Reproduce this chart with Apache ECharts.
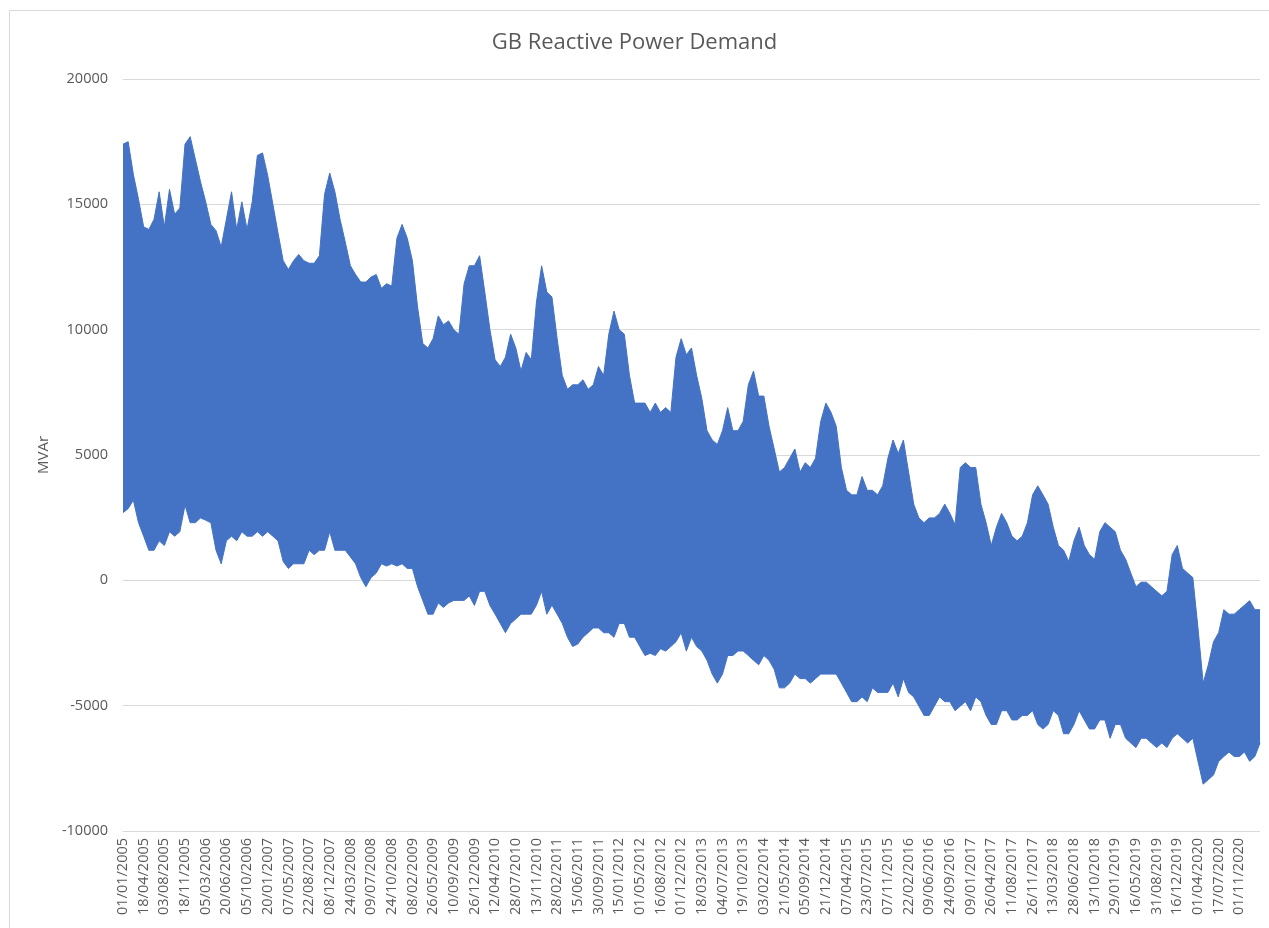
<!DOCTYPE html>
<html>
<head>
<meta charset="utf-8">
<title>GB Reactive Power Demand</title>
<script src="https://cdn.jsdelivr.net/npm/echarts@6/dist/echarts.min.js"></script>
<style>
  html, body { margin: 0; padding: 0; background: #fff; }
  #chart { width: 1269px; height: 928px; }
</style>
</head>
<body>
<div id="chart"></div>
<script>
// x axis: one label every 107 days, data sampled every quarter of a label step
const dateLabels = [
  '01/01/2005', '18/04/2005', '03/08/2005', '18/11/2005', '05/03/2006', '20/06/2006',
  '05/10/2006', '20/01/2007', '07/05/2007', '22/08/2007', '08/12/2007', '24/03/2008',
  '09/07/2008', '24/10/2008', '08/02/2009', '26/05/2009', '10/09/2009', '26/12/2009',
  '12/04/2010', '28/07/2010', '13/11/2010', '28/02/2011', '15/06/2011', '30/09/2011',
  '15/01/2012', '01/05/2012', '16/08/2012', '01/12/2012', '18/03/2013', '04/07/2013',
  '19/10/2013', '03/02/2014', '21/05/2014', '05/09/2014', '21/12/2014', '07/04/2015',
  '23/07/2015', '07/11/2015', '22/02/2016', '09/06/2016', '24/09/2016', '09/01/2017',
  '26/04/2017', '11/08/2017', '26/11/2017', '13/03/2018', '28/06/2018', '13/10/2018',
  '29/01/2019', '16/05/2019', '31/08/2019', '16/12/2019', '01/04/2020', '17/07/2020',
  '01/11/2020'
];
const PER_LABEL = 4;

// upper edge of the half-hourly demand (MVAr)
const highs = [
  17400, 17500, 16200, 15200, 14100, 14000, 14400, 15500, 14100, 15600, 14600, 14850,
  17400, 17700, 16800, 15900, 15100, 14200, 13950, 13300, 14400, 15500, 14000, 15100,
  14000, 15100, 16950, 17050, 16150, 15000, 13850, 12750, 12400, 12750, 13000, 12750,
  12650, 12650, 12950, 15400, 16250, 15500, 14400, 13500, 12550, 12200, 11900, 11900, 12100,
  12200, 11650, 11830, 11740, 13650, 14200, 13650, 12750, 10900, 9450, 9270, 9640,
  10550, 10200, 10350, 10000, 9820, 11830, 12550, 12550, 12950, 11500, 10000, 8800, 8530,
  8900, 9820, 9270, 8350, 9090, 8800, 11100, 12550, 11500, 11300, 9640, 8170,
  7620, 7800, 7800, 8000, 7620, 7800, 8530, 8170, 9820, 10740, 10000, 9820, 8170,
  7070, 7070, 7070, 6700, 7070, 6700, 6890, 6700, 8900, 9640, 9000, 9270,
  8170, 7250, 5970, 5600, 5420, 5970, 6890, 5970, 5970, 6340, 7800, 8350,
  7350, 7350, 6150, 5240, 4320, 4500, 4870, 5240, 4320, 4690, 4500, 4870,
  6340, 7070, 6700, 6150, 4500, 3590, 3410, 3410, 4140, 3590, 3590, 3410, 3770,
  4870, 5600, 5060, 5600, 4320, 3040, 2490, 2300, 2490, 2490, 2670, 3040,
  2670, 2220, 4500, 4690, 4500, 4500, 3040, 2300, 1390, 2120, 2670, 2300, 1760,
  1575, 1760, 2300, 3410, 3770, 3410, 3040, 2120, 1390, 1200, 750, 1575,
  2120, 1390, 1025, 840, 1940, 2300, 2120, 1940, 1200, 840, 290, -256, -73,
  -73, -256, -440, -620, -440, 1025, 1390, 475, 290, 110, -1900, -4100,
  -3370, -2450, -2090, -1170, -1350, -1350, -1170, -990, -810, -1170, -1170
];

// lower edge of the half-hourly demand (MVAr)
const lows = [
  2700, 2860, 3200, 2300, 1760, 1200, 1200, 1575, 1390, 1940, 1760, 1940,
  3000, 2300, 2300, 2490, 2400, 2300, 1200, 660, 1575, 1760, 1575, 1940,
  1760, 1760, 1940, 1760, 1940, 1760, 1575, 750, 475, 660, 660, 660,
  1200, 1025, 1200, 1200, 1940, 1200, 1200, 1200, 935, 660, 110, -256, 110,
  290, 660, 570, 660, 570, 660, 475, 475, -256, -800, -1350, -1350,
  -900, -1080, -900, -800, -800, -800, -620, -1000, -440, -440, -1000, -1350, -1720,
  -2090, -1720, -1540, -1350, -1350, -1350, -990, -440, -1350, -990, -1350, -1720,
  -2270, -2640, -2540, -2270, -2090, -1900, -1900, -2090, -2090, -2270, -1720, -1720, -2270,
  -2270, -2640, -3000, -2910, -3000, -2730, -2820, -2640, -2450, -2090, -2820, -2270,
  -2640, -2820, -3190, -3740, -4100, -3740, -3000, -3000, -2820, -2820, -3000, -3190,
  -3370, -3000, -3190, -3550, -4290, -4290, -4100, -3740, -3920, -3920, -4100, -3920,
  -3740, -3740, -3740, -3740, -4100, -4470, -4840, -4840, -4650, -4840, -4290, -4470, -4470,
  -4470, -4100, -4650, -3920, -4470, -4650, -5020, -5390, -5390, -5020, -4650, -4840,
  -4840, -5200, -5020, -4840, -5200, -4650, -4840, -5390, -5750, -5750, -5200, -5200, -5570,
  -5570, -5390, -5390, -5200, -5750, -5930, -5750, -5200, -5390, -6120, -6120, -5750,
  -5200, -5570, -5930, -5930, -5570, -5570, -6300, -5750, -5750, -6300, -6490, -6670, -6300,
  -6300, -6490, -6670, -6490, -6670, -6300, -6120, -6300, -6490, -6300, -7220, -8130,
  -7950, -7770, -7220, -7030, -6850, -7030, -7030, -6850, -7220, -7030, -6490
];

const yTicks = { min: -10000, max: 20000, interval: 5000 };

const chart = echarts.init(document.getElementById('chart'));

const categories = highs.map((_, i) => String(i));
const spans = highs.map((v, i) => v - lows[i]);
const txt = '#595959';
const gridCol = '#d9d9d9';
const blue = '#4472C4';

const option = {
  animation: false,
  backgroundColor: '#fff',
  textStyle: { fontFamily: 'Open Sans' },
  title: {
    text: 'GB Reactive Power Demand',
    left: 'center',
    top: 27,
    textStyle: { color: txt, fontSize: 22, fontWeight: 'normal', fontFamily: 'Open Sans' }
  },
  graphic: [{
    type: 'rect',
    shape: { x: 9.5, y: 10.5, width: 1300, height: 1000 },
    style: { fill: 'none', stroke: gridCol, lineWidth: 1 },
    silent: true
  }],
  grid: { left: 123, right: 9, top: 79, bottom: 97 },
  xAxis: {
    type: 'category',
    data: categories,
    boundaryGap: false,
    axisLine: { show: false },
    axisTick: { show: false },
    splitLine: { show: false },
    axisLabel: {
      interval: i => i % PER_LABEL === 0,
      rotate: 90,
      margin: 7,
      color: txt,
      fontSize: 14.5,
      fontFamily: 'Open Sans',
      formatter: (v, i) => (i % PER_LABEL === 0 && dateLabels[i / PER_LABEL]) || ''
    }
  },
  yAxis: {
    type: 'value',
    min: yTicks.min,
    max: yTicks.max,
    interval: yTicks.interval,
    name: 'MVAr',
    nameLocation: 'middle',
    nameGap: 67,
    nameRotate: 90,
    nameTextStyle: { color: txt, fontSize: 15, fontFamily: 'Open Sans' },
    axisLine: { show: false },
    axisTick: { show: false },
    axisLabel: { color: txt, fontSize: 14.5, margin: 15, fontFamily: 'Open Sans', formatter: v => String(v) },
    splitLine: { lineStyle: { color: gridCol, width: 1 } }
  },
  series: [
    {
      name: 'low',
      type: 'line',
      stack: 'band',
      stackStrategy: 'all',
      data: lows,
      symbol: 'none',
      lineStyle: { color: blue, width: 1 },
      silent: true
    },
    {
      name: 'MVAr',
      type: 'line',
      stack: 'band',
      stackStrategy: 'all',
      data: spans,
      symbol: 'none',
      lineStyle: { color: blue, width: 1 },
      areaStyle: { color: blue, opacity: 1 },
      silent: true
    }
  ]
};

chart.setOption(option);
window.addEventListener('resize', () => chart.resize());
</script>
</body>
</html>
